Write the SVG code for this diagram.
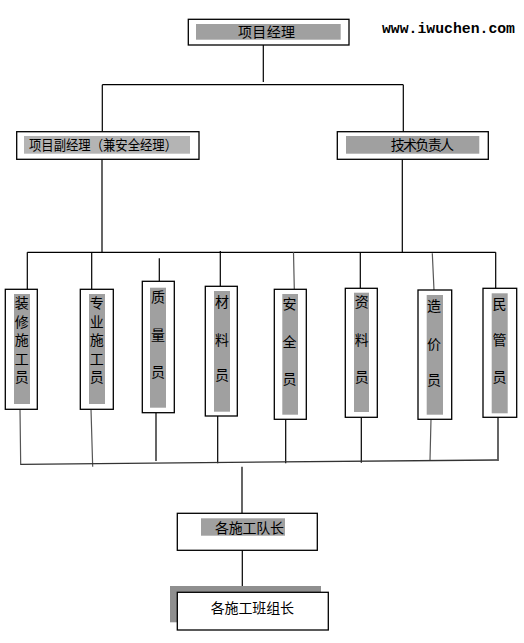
<svg xmlns="http://www.w3.org/2000/svg" width="524" height="643" viewBox="0 0 524 643">
<style>
.box{fill:#fff;stroke:#000;stroke-width:1.3}
.g{fill:#a0a0a0}
.gl{fill:#b4b4b4}
.t{font-family:"Liberation Sans","Noto Sans CJK SC",sans-serif;font-size:14px;fill:#000}
.v{font-family:"Liberation Sans","Noto Sans CJK SC",sans-serif;font-size:14px;fill:#000;text-anchor:middle}
.ln{stroke:#000;stroke-width:1.2;fill:none}
.lg{stroke:#555;stroke-width:1.2;fill:none}
</style>
<rect width="524" height="643" fill="#fff"/>
<text x="382" y="33" font-family="Liberation Mono, monospace" font-size="14" font-weight="bold" textLength="133" lengthAdjust="spacingAndGlyphs">www.iwuchen.com</text>
<g id="connectors">
<path class="ln" d="M263.3 45V82 M102.3 84.7H403.3 M102.3 84.7V132 M403.3 84.7V132"/>
<path class="ln" d="M102 159V253 M402.3 159V252.3 M27.3 252.3H495.7"/>
<path class="ln" d="M27.3 252.3V289 M91.7 252.3V289 M159.3 258.3V281.3 M220.3 251V286.3 M360.3 252.3V288.3 M495.7 252.3V288.3"/>
<path class="lg" d="M293.5 252.3L294.3 289.3 M432.3 253.3L434 290"/>
<path class="lg" d="M20 409.3L20.7 465 M91 409.3L92.7 466.7 M431 419.3L430 460"/>
<path class="ln" d="M156 412.7V461 M217.7 416V463.3 M285.7 419.3V463.3 M361.3 417.3V462.7 M498 417.3V461"/>
<path d="M20.7 464.3L497.3 460" stroke="#333" stroke-width="1.3" fill="none"/>
<path class="ln" d="M242 466.7V513.3 M242.3 550.3V592.3"/>
</g>
<g id="pm">
<rect class="box" x="188.3" y="19.3" width="160.7" height="25.7"/>
<rect class="g" x="196" y="24" width="144.7" height="15.7"/>
<text class="t" x="238" y="37" textLength="57">项目经理</text>
</g>
<g id="deputy">
<rect class="box" x="16.7" y="131.7" width="182.3" height="27.6"/>
<rect class="gl" x="24" y="136" width="166" height="17.7"/>
<text class="t" x="29" y="150" textLength="148" lengthAdjust="spacingAndGlyphs">项目副经理（兼安全经理）</text>
</g>
<g id="tech">
<rect class="box" x="337.3" y="131.7" width="151" height="27.6"/>
<rect class="g" x="346" y="136" width="133.3" height="17.7"/>
<text class="t" x="390.7" y="150" textLength="63.3">技术负责人</text>
</g>
<g id="n1">
<rect class="box" x="5.3" y="289.3" width="32" height="120"/>
<rect class="g" x="14" y="294" width="16" height="110"/>
<text class="v" x="21.8"><tspan x="21.8" y="308">装</tspan><tspan x="21.8" y="326.5">修</tspan><tspan x="21.8" y="345">施</tspan><tspan x="21.8" y="363.5">工</tspan><tspan x="21.8" y="382">员</tspan></text>
</g>
<g id="n2">
<rect class="box" x="80.3" y="289.3" width="33" height="120"/>
<rect class="g" x="89" y="294" width="16" height="110"/>
<text class="v" x="96.8"><tspan x="96.8" y="308">专</tspan><tspan x="96.8" y="326.5">业</tspan><tspan x="96.8" y="345">施</tspan><tspan x="96.8" y="363.5">工</tspan><tspan x="96.8" y="382">员</tspan></text>
</g>
<g id="n3">
<rect class="box" x="142.3" y="281.3" width="32" height="131.4"/>
<rect class="g" x="150" y="287.7" width="16" height="120"/>
<text class="v" x="158"><tspan x="158" y="302">质</tspan><tspan x="158" y="340">量</tspan><tspan x="158" y="377">员</tspan></text>
</g>
<g id="n4">
<rect class="box" x="205.3" y="286.3" width="32" height="129.7"/>
<rect class="g" x="214" y="291" width="16" height="120.7"/>
<text class="v" x="222"><tspan x="222" y="307">材</tspan><tspan x="222" y="344.5">料</tspan><tspan x="222" y="380">员</tspan></text>
</g>
<g id="n5">
<rect class="box" x="274.3" y="289.3" width="32" height="130"/>
<rect class="g" x="282.3" y="294" width="15.7" height="120.7"/>
<text class="v" x="289.5"><tspan x="289.5" y="308.5">安</tspan><tspan x="289.5" y="347">全</tspan><tspan x="289.5" y="383.5">员</tspan></text>
</g>
<g id="n6">
<rect class="box" x="345.3" y="288.3" width="32" height="129"/>
<rect class="g" x="354" y="292.7" width="15" height="119.3"/>
<text class="v" x="361.7"><tspan x="361.7" y="307">资</tspan><tspan x="361.7" y="345">料</tspan><tspan x="361.7" y="382">员</tspan></text>
</g>
<g id="n7">
<rect class="box" x="418" y="290" width="33.7" height="129.3"/>
<rect class="g" x="426.7" y="295" width="16.3" height="119.7"/>
<text class="v" x="434"><tspan x="434" y="311">造</tspan><tspan x="434" y="348.5">价</tspan><tspan x="434" y="385">员</tspan></text>
</g>
<g id="n8">
<rect class="box" x="483" y="288.3" width="33.7" height="129"/>
<rect class="g" x="491.7" y="293.3" width="16" height="120"/>
<text class="v" x="499.5"><tspan x="499.5" y="308.5">民</tspan><tspan x="499.5" y="345">管</tspan><tspan x="499.5" y="382">员</tspan></text>
</g>
<g id="team">
<rect class="box" x="177.3" y="513.3" width="140" height="37"/>
<rect class="g" x="201" y="518.3" width="84" height="17.4"/>
<text class="t" x="215" y="532.5" textLength="69">各施工队长</text>
</g>
<g id="group">
<rect x="170" y="586" width="151" height="36.3" fill="#8f8f8f"/>
<rect class="box" x="177.3" y="592.3" width="151" height="37.7"/>
<text class="t" x="210.7" y="612.5" textLength="83.3">各施工班组长</text>
</g>
</svg>
